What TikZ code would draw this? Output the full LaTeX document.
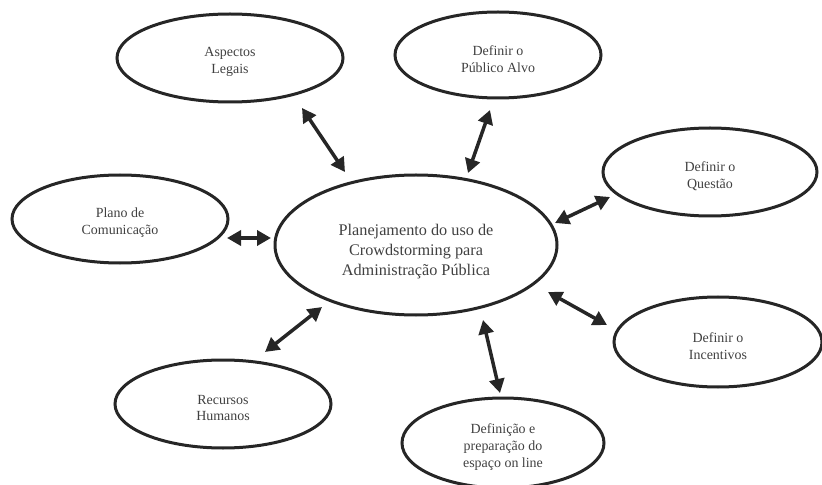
\documentclass[tikz,border=0pt]{standalone}
\usepackage{fontspec}
\setmainfont{Liberation Serif}
\usetikzlibrary{shapes.geometric,arrows.meta}
\definecolor{linec}{HTML}{262626}
\definecolor{textc}{HTML}{404040}
\begin{document}
\begin{tikzpicture}[x=1bp,y=-1bp,
  oval/.style={ellipse,draw=linec,line width=3bp,inner sep=0pt},
  smalltxt/.style={align=center,text=textc,inner sep=0pt,font=\fontsize{14}{17}\selectfont},
  bigtxt/.style={align=center,text=textc,inner sep=0pt,font=\fontsize{16.3}{20}\selectfont},
  link/.style={draw=linec,line width=3.5bp,{Triangle[length=14bp,width=15bp]}-{Triangle[length=14bp,width=15bp]}}]
\useasboundingbox (0,0) rectangle (822,485);
\node[oval,minimum width=282bp,minimum height=140bp] (cen) at (416,245) {};
\node[oval,minimum width=226bp,minimum height=88bp] (asp) at (230,58) {};
\node[oval,minimum width=206bp,minimum height=86bp] (pub) at (498,55) {};
\node[oval,minimum width=214bp,minimum height=88bp] (que) at (710,172) {};
\node[oval,minimum width=216bp,minimum height=88bp] (pla) at (120,219) {};
\node[oval,minimum width=208bp,minimum height=90bp] (inc) at (718,342) {};
\node[oval,minimum width=216bp,minimum height=88bp] (rec) at (223,404) {};
\node[oval,minimum width=202bp,minimum height=90bp] (def) at (503,443) {};
\node[bigtxt,yshift=-7bp] (cent) at (cen) {Planejamento do uso de\\Crowdstorming para\\Administração Pública};
\node[smalltxt,yshift=-4bp] (aspt) at (asp) {Aspectos\\Legais};
\node[smalltxt,yshift=-4bp] (pubt) at (pub) {Definir o\\Público Alvo};
\node[smalltxt,yshift=-4bp] (quet) at (que) {Definir o\\Questão};
\node[smalltxt,yshift=-4bp] (plat) at (pla) {Plano de\\Comunicação};
\node[smalltxt,yshift=-4bp] (inct) at (inc) {Definir o\\Incentivos};
\node[smalltxt,yshift=-4bp] (rect) at (rec) {Recursos\\Humanos};
\node[smalltxt,yshift=-4bp] (deft) at (def) {Definição e\\preparação do\\espaço on line};
\coordinate (a1s) at (302,108); \coordinate (a1e) at (345,172);
\coordinate (a2s) at (490,110); \coordinate (a2e) at (468,173);
\coordinate (a3s) at (555,223); \coordinate (a3e) at (610,197);
\coordinate (a4s) at (548,292); \coordinate (a4e) at (607,325);
\coordinate (a5s) at (227,238); \coordinate (a5e) at (271,238);
\coordinate (a6s) at (265,352); \coordinate (a6e) at (322,307);
\coordinate (a7s) at (483,320); \coordinate (a7e) at (500,393);
\draw[link] (a1s) -- (a1e);
\draw[link] (a2s) -- (a2e);
\draw[link] (a3s) -- (a3e);
\draw[link] (a4s) -- (a4e);
\draw[link] (a5s) -- (a5e);
\draw[link] (a6s) -- (a6e);
\draw[link] (a7s) -- (a7e);
\end{tikzpicture}
\end{document}
